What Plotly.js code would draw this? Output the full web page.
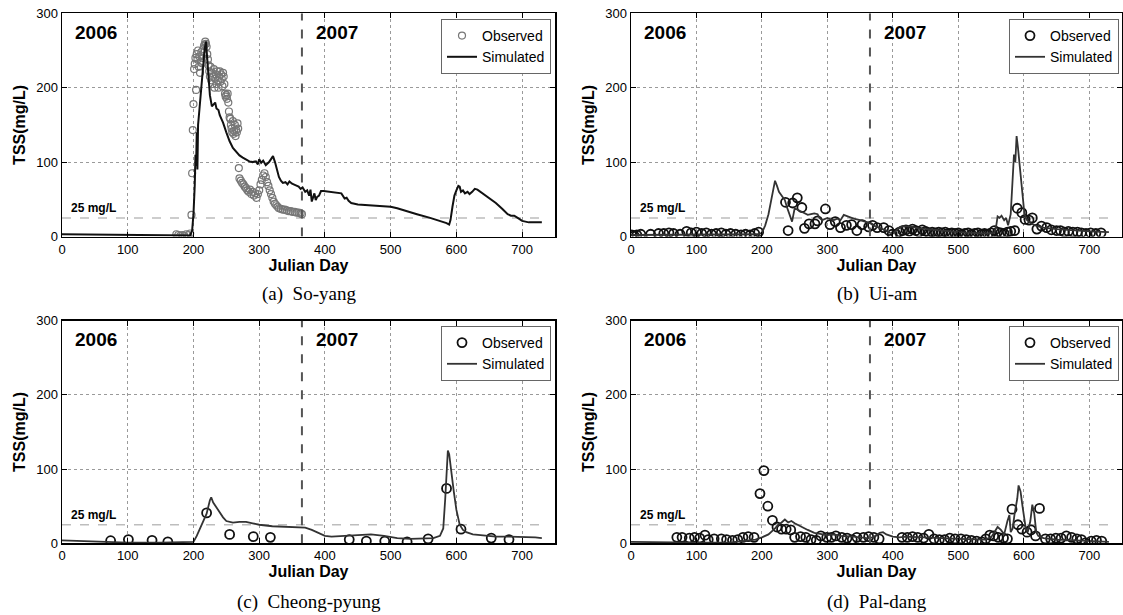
<!DOCTYPE html>
<html>
<head>
<meta charset="utf-8">
<script src="https://cdn.plot.ly/plotly-3.0.1.min.js"></script>
<style>html,body{margin:0;padding:0;background:#fff;}#chart{width:1123px;height:615px;}</style>
</head>
<body>
<div id="chart"></div>
<script>
// ---------------- DATA ----------------
const panelCaptions = ["(a)  So-yang", "(b)  Ui-am", "(c)  Cheong-pyung", "(d)  Pal-dang"];
const yearLabels = ["2006", "2007"];
const yearLabelDays = [52, 418];
const thresholdLabel = "25 mg/L";
const thresholdValue = 25;
const thresholdEndDay = 730;
const yearBoundaryDay = 365;
const xTicks = [0, 100, 200, 300, 400, 500, 600, 700];
const yTicks = [0, 100, 200, 300];

// (a) So-yang
const soyangSimDay = [0,50,100,150,180,195,198,200,202,203,
  204,205,206,207,209,211,213,215,217,219,
  221,223,225,228,231,233,235,238,240,245,
  250,255,260,265,270,275,280,285,290,295,
  298,300,303,306,310,315,318,321,324,327,
  330,333,336,340,343,346,350,355,360,363,
  366,370,373,376,378,380,382,384,386,388,
  391,394,398,405,415,425,430,433,436,440,
  450,470,490,500,510,520,540,560,575,585,
  589,591,594,597,600,603,605,607,610,613,
  617,620,624,628,632,640,650,660,670,678,
  683,688,695,700,710,730];
const soyangSimTss = [3,2.5,2,1.5,1,1.5,8,30,70,110,
  95,140,90,150,170,190,205,235,252,262,
  240,215,190,175,178,180,172,170,163,153,
  140,128,119,114,109,106,103,101,100,101,
  97,104,99,102,96,100,104,108,100,90,
  80,75,72,73,70,74,71,69,67,64,
  66,60,62,55,63,47,52,58,49,53,
  55,61,61,60,59,58,51,52,48,45,
  43,42,41,40,38,35,30,25,21,18,
  16,22,40,55,62,68,67,60,62,58,
  60,57,60,64,63,58,52,45,37,30,
  28,28,24,21,19,19];
const soyangObsDay = [174,177,180,183,186,189,192,195,197,198,
  199,200,201,202,203,204,205,206,207,208,
  209,210,211,212,213,214,215,216,217,218,
  219,220,221,222,223,224,225,226,227,228,
  229,230,231,232,233,234,235,236,237,238,
  239,240,241,242,243,244,245,246,247,248,
  249,250,251,252,253,254,255,256,257,258,
  259,260,261,262,263,264,265,266,267,268,
  269,270,272,274,276,278,280,282,284,286,
  288,290,292,294,296,298,300,302,304,306,
  308,310,312,314,316,318,320,322,324,326,
  328,330,333,336,339,342,345,348,351,354,
  357,360,363,365];
const soyangObsTss = [3,2,1,2,1,3,2,4,29,85,
  143,178,225,232,240,197,245,238,250,228,
  242,220,235,248,233,240,252,256,258,262,
  259,255,245,238,230,222,215,228,210,220,
  205,215,225,200,212,218,205,222,210,200,
  215,222,208,218,212,202,220,215,205,192,
  188,190,185,192,180,168,160,158,150,145,
  140,155,138,142,150,135,143,140,152,145,
  92,78,75,72,70,67,65,62,60,63,
  57,60,55,58,52,57,62,70,76,82,
  85,80,73,68,62,57,52,47,44,42,
  40,38,37,36,36,35,34,34,33,33,
  32,32,31,30];

// (b) Ui-am
const uiamSimDay = [0,30,60,100,150,195,200,205,210,215,
  218,220,223,226,230,235,238,242,246,250,
  254,258,262,266,270,275,280,285,288,292,
  296,300,305,310,315,320,325,330,335,340,
  350,360,365,370,380,390,395,400,405,410,
  415,420,430,440,450,470,500,520,540,555,
  558,560,563,566,570,573,576,580,583,585,
  587,589,591,594,598,601,605,610,620,630,
  650,680,700,730];
const uiamSimTss = [2,2,3,3,2,3,5,15,30,55,
  70,75,68,60,55,49,40,29,20,38,
  36,35,33,30,29,30,31,30,25,22,
  24,25,23,22,24,22,29,27,26,24,
  22,20,18,15,12,8,5,4,8,12,
  14,14,13,11,10,8,6,5,4,5,
  15,27,25,28,22,25,15,30,70,110,
  100,135,120,90,60,30,22,18,14,12,
  10,8,7,6];
const uiamObsDay = [1,5,9,15,30,42,50,58,65,75,
  85,92,100,108,115,123,130,138,145,152,
  160,168,175,182,189,195,236,240,247,254,
  261,265,272,281,285,297,304,312,320,329,
  337,345,353,363,369,376,386,394,399,405,
  410,415,420,425,430,435,440,445,450,455,
  460,465,470,475,480,485,490,495,500,505,
  510,515,520,525,530,535,540,545,550,555,
  560,565,570,575,580,586,590,597,602,608,
  613,620,627,635,642,650,656,662,668,675,
  682,688,695,702,710,718];
const uiamObsTss = [2,1,2,3,3,4,4,5,4,3,
  7,5,6,4,5,3,4,5,3,4,
  3,2,3,2,4,6,46,8,45,52,
  39,11,17,17,21,37,16,20,12,15,
  16,8,16,13,15,12,12,8,3,3,
  6,8,9,7,10,8,6,9,7,5,
  6,5,6,5,6,4,5,4,5,3,
  4,5,3,4,5,3,4,3,5,8,
  6,5,4,6,7,8,38,32,23,22,
  25,10,14,12,9,8,8,6,7,6,
  6,5,4,5,4,5];

// (c) Cheong-pyung
const cpSimDay = [0,50,100,150,195,200,205,210,215,220,
  225,227,230,235,240,245,250,260,270,280,
  290,300,320,340,360,370,380,390,400,410,
  430,450,470,490,510,530,550,565,575,580,
  583,585,587,589,592,596,600,605,610,615,
  625,640,660,680,700,720,730];
const cpSimTss = [4,2,1,1,1,2,10,20,28,40,
  58,62,55,48,42,35,30,28,29,29,
  27,25,23,22,21,21,18,14,10,9,
  10,12,12,10,7,6,6,7,10,20,
  60,100,125,120,95,70,45,25,18,15,
  12,11,9,9,9,8,7];
const cpObsDay = [74,101,137,161,220,255,291,317,437,463,491,525,557,585,607,653,680];
const cpObsTss = [3.5,5,4,2,41,12,9,8,5,3,3,2,6,74,19,7,5];

// (d) Pal-dang
const pdSimDay = [0,50,100,150,190,200,210,220,225,230,
  235,240,245,250,260,270,280,290,300,310,
  320,340,360,370,380,385,390,400,410,420,
  440,460,500,540,550,555,560,565,570,575,
  578,580,583,586,590,592,595,598,600,603,
  606,610,613,616,619,622,630,650,680,700,
  720,730];
const pdSimTss = [2,1,1,1,5,8,12,20,25,28,
  32,28,30,27,22,18,14,12,11,12,
  10,9,7,8,14,15,12,9,8,9,
  8,7,6,5,8,15,22,18,12,30,
  38,15,20,40,60,78,70,50,35,20,
  15,30,52,40,15,10,7,5,4,3,
  3,2];
const pdObsDay = [70,78,89,97,105,113,118,127,138,146,
  155,163,171,179,188,197,203,209,216,223,
  230,237,244,250,259,267,275,283,290,299,
  306,313,322,330,338,345,355,363,371,379,
  414,422,430,438,447,455,463,471,479,487,
  495,504,512,520,528,536,542,548,554,561,
  569,575,582,591,597,605,611,618,624,633,
  641,649,657,665,673,681,688,694,703,711,
  719];
const pdObsTss = [8,8,7,8,7,11,5,6,6,5,
  4,5,8,9,8,67,98,50,31,22,
  19,19,18,8,9,8,5,4,10,8,
  8,10,8,7,5,8,8,9,8,6,
  8,8,9,8,7,12,6,5,5,7,
  6,6,5,4,3,2,6,11,10,8,
  7,6,46,25,19,15,18,10,47,6,
  6,7,7,10,8,6,5,0.5,3,4,
  3];

// ---------------- LAYOUT / DRAW ----------------
const W = 1123, H = 615;
const FONT = "Arial, 'Liberation Sans', Helvetica, sans-serif";
const SERIF = "'Times New Roman', 'Liberation Serif', serif";

const xDom = [[62 / W, 555 / W], [631 / W, 1122 / W]];
const yDom = [[1 - 236.5 / H, 1 - 13.3 / H], [1 - 543.3 / H, 1 - 320.7 / H]];

const panels = [
  {simX: soyangSimDay, simY: soyangSimTss, obsX: soyangObsDay, obsY: soyangObsTss, col: 0, row: 0, small: true},
  {simX: uiamSimDay, simY: uiamSimTss, obsX: uiamObsDay, obsY: uiamObsTss, col: 1, row: 0, small: false},
  {simX: cpSimDay, simY: cpSimTss, obsX: cpObsDay, obsY: cpObsTss, col: 0, row: 1, small: false},
  {simX: pdSimDay, simY: pdSimTss, obsX: pdObsDay, obsY: pdObsTss, col: 1, row: 1, small: false}
];

const traces = [];
const layout = {
  width: W, height: H,
  margin: {l: 0, r: 0, t: 0, b: 0},
  paper_bgcolor: "#fff", plot_bgcolor: "#fff",
  font: {family: FONT, color: "#000", size: 13},
  annotations: [], shapes: []
};

panels.forEach((p, i) => {
  const n = i + 1;
  const sfx = n === 1 ? "" : String(n);
  const xa = "x" + sfx, ya = "y" + sfx;
  const legendName = "legend" + sfx;

  traces.push({
    x: p.obsX, y: p.obsY, xaxis: xa, yaxis: ya, type: "scatter", mode: "markers",
    name: "Observed", legend: legendName,
    marker: p.small
      ? {symbol: "circle-open", size: 7, color: "#777", line: {width: 1.2}}
      : {symbol: "circle-open", size: 9, color: "#111", line: {width: 1.8}}
  });
  traces.push({
    x: p.simX, y: p.simY, xaxis: xa, yaxis: ya, type: "scatter", mode: "lines",
    name: "Simulated", legend: legendName,
    line: p.small ? {color: "#111", width: 2} : {color: "#333", width: 1.8}
  });

  const axisCommon = {
    showline: true, linecolor: "#000", linewidth: 1.5, mirror: "ticks",
    ticks: "inside", ticklen: 5, tickcolor: "#000", tickwidth: 1,
    showgrid: true, gridcolor: "#9a9a9a", gridwidth: 1, griddash: "dot",
    zeroline: false, tickfont: {size: 13, family: FONT, color: "#000"},
    fixedrange: true
  };
  layout["xaxis" + sfx] = Object.assign({}, axisCommon, {
    domain: xDom[p.col], anchor: ya, range: [0, 750],
    tickmode: "array", tickvals: xTicks, ticktext: xTicks.map(String),
    title: {text: "Julian Day", standoff: 2, font: {size: 16, family: FONT, weight: "bold", color: "#000"}}
  });
  layout["yaxis" + sfx] = Object.assign({}, axisCommon, {
    domain: yDom[p.row], anchor: xa, range: [0, 300],
    tickmode: "array", tickvals: yTicks, ticktext: yTicks.map(String),
    title: {text: "TSS(mg/L)", standoff: 6, font: {size: 16, family: FONT, weight: "bold", color: "#000"}}
  });

  const legRight = p.col === 0 ? 551 / W : 1119 / W;
  const legTop = p.row === 0 ? 1 - 19 / H : 1 - 326 / H;
  layout[legendName] = {
    x: legRight, xanchor: "right", y: legTop, yanchor: "top",
    bgcolor: "#fff", bordercolor: "#666", borderwidth: 1,
    font: {size: 14, family: FONT, color: "#000"},
    tracegroupgap: 0, itemwidth: 30
  };

  // reference lines
  layout.shapes.push({
    type: "line", xref: xa, yref: ya, x0: yearBoundaryDay, x1: yearBoundaryDay, y0: 0, y1: 300,
    line: {color: "#555", width: 2, dash: "dash"}, layer: "above"
  });
  layout.shapes.push({
    type: "line", xref: xa, yref: ya, x0: 0, x1: thresholdEndDay, y0: thresholdValue, y1: thresholdValue,
    line: {color: "#bdbdbd", width: 1.5, dash: "dash"}, layer: "below"
  });

  // year labels and threshold label
  yearLabels.forEach((t, k) => {
    layout.annotations.push({
      xref: xa, yref: ya, x: yearLabelDays[k], y: 274, text: t, showarrow: false,
      font: {size: 19, family: FONT, weight: "bold", color: "#000"}
    });
  });
  layout.annotations.push({
    xref: xa, yref: ya, x: 48, y: 38.5, text: thresholdLabel, showarrow: false,
    font: {size: 12, family: FONT, weight: "bold", color: "#000"}
  });

  // caption
  const capY = p.row === 0 ? 1 - 294 / H : 1 - 601.7 / H;
  layout.annotations.push({
    xref: "paper", yref: "paper", x: (xDom[p.col][0] + xDom[p.col][1]) / 2, y: capY,
    xanchor: "center", yanchor: "middle", text: panelCaptions[i], showarrow: false,
    font: {size: 19, family: SERIF, color: "#000"}
  });
});

Plotly.newPlot("chart", traces, layout, {staticPlot: true, displayModeBar: false});
</script>
</body>
</html>
